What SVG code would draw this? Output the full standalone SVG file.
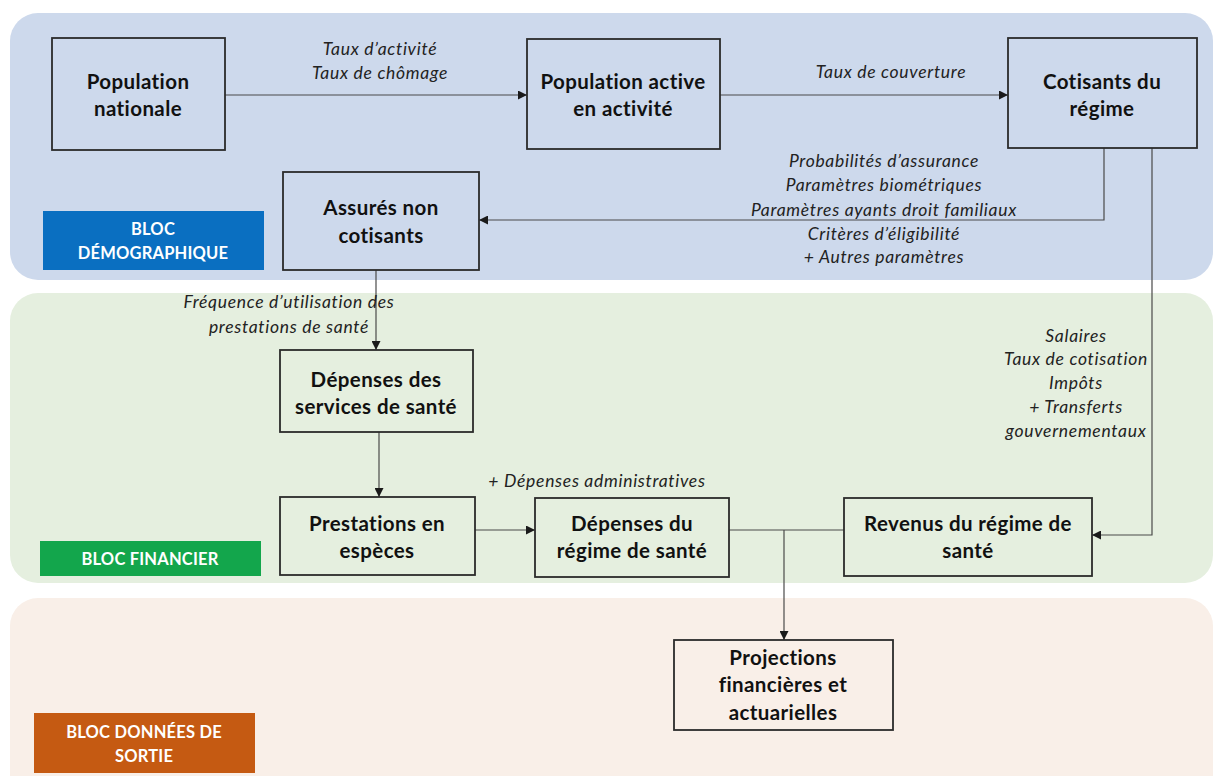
<svg xmlns="http://www.w3.org/2000/svg" width="1214" height="776" viewBox="0 0 1214 776">
  <defs>
    <marker id="arrow" viewBox="0 0 10 10" refX="10" refY="5" markerWidth="9" markerHeight="9" markerUnits="userSpaceOnUse" orient="auto">
      <path d="M0,0 L10,5 L0,10 z" fill="#1a1a1a"/>
    </marker>
    <style>
      .box { fill: none; stroke: #2b2b2b; stroke-width: 1.8; }
      .title { font-family: Lato, "Liberation Sans", sans-serif; font-weight: bold; font-size: 20.5px; letter-spacing: 0.4px; fill: #111; text-anchor: middle; }
      .param { font-family: Lato, "Liberation Sans", sans-serif; font-style: italic; font-size: 17.5px; letter-spacing: 0.7px; fill: #222; text-anchor: middle; }
      .badge { font-family: Lato, "Liberation Sans", sans-serif; font-weight: bold; font-size: 16.5px; letter-spacing: 0.2px; fill: #ffffff; text-anchor: middle; }
      .link { fill: none; stroke: #4a4a4a; stroke-width: 1.2; }
    </style>
  </defs>

  <rect width="1214" height="776" fill="#ffffff"/>

  <!-- block backgrounds -->
  <g id="blocks">
    <rect x="10" y="13" width="1203" height="267" rx="28" fill="#cdd9ec"/>
    <rect x="10" y="293" width="1203" height="290" rx="28" fill="#e5efdf"/>
    <rect x="10" y="598" width="1203" height="210" rx="28" fill="#f9efe8"/>
  </g>

  <!-- block badges -->
  <g id="badge-demo">
    <rect x="43" y="211" width="221" height="59" fill="#0a6fc1"/>
    <text class="badge" x="153" y="235">BLOC</text>
    <text class="badge" x="153" y="259">DÉMOGRAPHIQUE</text>
  </g>
  <g id="badge-fin">
    <rect x="40" y="541" width="221" height="35" fill="#13a64c"/>
    <text class="badge" x="150" y="565">BLOC FINANCIER</text>
  </g>
  <g id="badge-out">
    <rect x="34" y="713" width="221" height="60" fill="#c55a12"/>
    <text class="badge" x="144" y="738">BLOC DONNÉES DE</text>
    <text class="badge" x="144" y="762">SORTIE</text>
  </g>

  <!-- connectors -->
  <g id="connectors">
    <line class="link" x1="225" y1="95" x2="527" y2="95" marker-end="url(#arrow)"/>
    <line class="link" x1="720" y1="95" x2="1008" y2="95" marker-end="url(#arrow)"/>
    <polyline class="link" points="1104,148 1104,220 479,220" marker-end="url(#arrow)"/>
    <polyline class="link" points="1152,148 1152,535 1092,535" marker-end="url(#arrow)"/>
    <line class="link" x1="376" y1="270" x2="376" y2="350" marker-end="url(#arrow)"/>
    <line class="link" x1="379" y1="432" x2="379" y2="497" marker-end="url(#arrow)"/>
    <line class="link" x1="475" y1="530" x2="535" y2="530" marker-end="url(#arrow)"/>
    <line class="link" x1="729" y1="530" x2="844" y2="530"/>
    <line class="link" x1="784" y1="530" x2="784" y2="640" marker-end="url(#arrow)"/>

    <!-- connector labels -->
    <text class="param" x="380" y="55">Taux d’activité</text>
    <text class="param" x="380" y="79">Taux de chômage</text>
    <text class="param" x="891" y="78">Taux de couverture</text>
    <text class="param" x="884" y="167">Probabilités d’assurance</text>
    <text class="param" x="884" y="191">Paramètres biométriques</text>
    <text class="param" x="884" y="216">Paramètres ayants droit familiaux</text>
    <text class="param" x="884" y="240">Critères d’éligibilité</text>
    <text class="param" x="884" y="263">+ Autres paramètres</text>
    <text class="param" x="289" y="308">Fréquence d’utilisation des</text>
    <text class="param" x="289" y="333">prestations de santé</text>
    <text class="param" x="1076" y="342">Salaires</text>
    <text class="param" x="1076" y="365">Taux de cotisation</text>
    <text class="param" x="1076" y="389">Impôts</text>
    <text class="param" x="1076" y="413">+ Transferts</text>
    <text class="param" x="1076" y="437">gouvernementaux</text>
    <text class="param" x="597" y="487">+ Dépenses administratives</text>
  </g>

  <!-- nodes -->
  <g id="pop-nationale">
    <rect class="box" x="52" y="38" width="173" height="112"/>
    <text class="title" x="138" y="89">Population</text>
    <text class="title" x="138" y="116">nationale</text>
  </g>
  <g id="pop-active">
    <rect class="box" x="527" y="39" width="193" height="110"/>
    <text class="title" x="623" y="89">Population active</text>
    <text class="title" x="623" y="116">en activité</text>
  </g>
  <g id="cotisants">
    <rect class="box" x="1008" y="38" width="189" height="110"/>
    <text class="title" x="1102" y="89">Cotisants du</text>
    <text class="title" x="1102" y="116">régime</text>
  </g>
  <g id="assures">
    <rect class="box" x="283" y="172" width="196" height="98"/>
    <text class="title" x="381" y="215">Assurés non</text>
    <text class="title" x="381" y="243">cotisants</text>
  </g>
  <g id="depenses-services">
    <rect class="box" x="280" y="350" width="193" height="82"/>
    <text class="title" x="376" y="387">Dépenses des</text>
    <text class="title" x="376" y="414">services de santé</text>
  </g>
  <g id="prestations-especes">
    <rect class="box" x="280" y="497" width="195" height="78"/>
    <text class="title" x="377" y="531">Prestations en</text>
    <text class="title" x="377" y="558">espèces</text>
  </g>
  <g id="depenses-regime">
    <rect class="box" x="535" y="498" width="194" height="79"/>
    <text class="title" x="632" y="531">Dépenses du</text>
    <text class="title" x="632" y="558">régime de santé</text>
  </g>
  <g id="revenus-regime">
    <rect class="box" x="844" y="498" width="248" height="78"/>
    <text class="title" x="968" y="531">Revenus du régime de</text>
    <text class="title" x="968" y="558">santé</text>
  </g>
  <g id="projections">
    <rect class="box" x="674" y="640" width="219" height="90"/>
    <text class="title" x="783" y="665">Projections</text>
    <text class="title" x="783" y="692">financières et</text>
    <text class="title" x="783" y="720">actuarielles</text>
  </g>
</svg>
